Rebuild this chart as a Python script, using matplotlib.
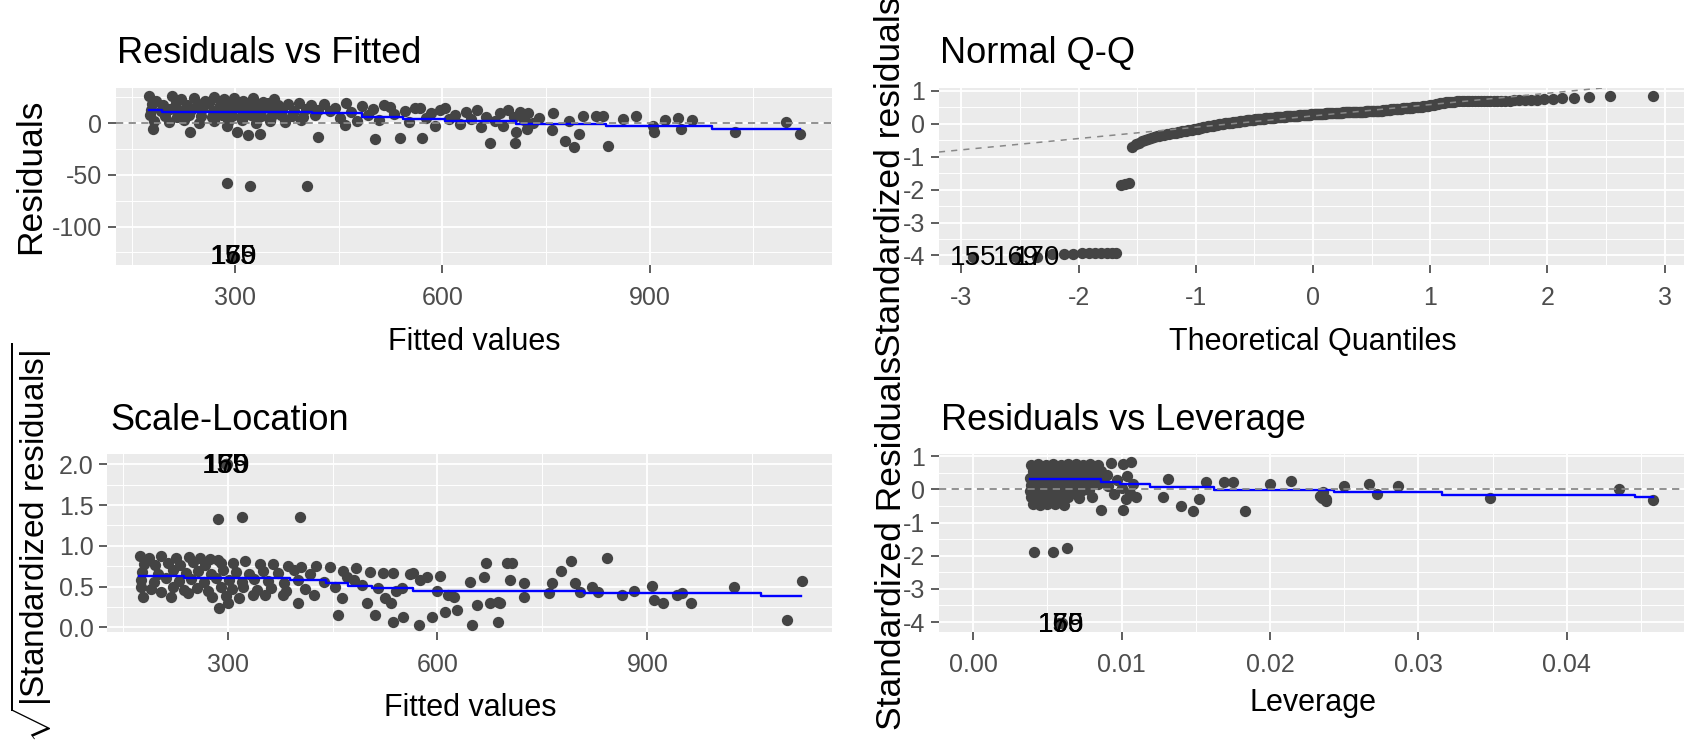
import matplotlib
matplotlib.use("Agg")
import matplotlib.pyplot as plt
from matplotlib import font_manager
from statistics import NormalDist

plt.rcParams['font.family'] = ['Liberation Sans', 'DejaVu Sans']
plt.rcParams['axes.unicode_minus'] = False
plt.rcParams['mathtext.fontset'] = 'custom'
plt.rcParams['mathtext.rm'] = 'Liberation Sans'
plt.rcParams['mathtext.it'] = 'Liberation Sans:italic'
plt.rcParams['mathtext.bf'] = 'Liberation Sans:bold'


def has_font(name):
    try:
        font_manager.findfont(font_manager.FontProperties(family=name), fallback_to_default=False)
        return True
    except Exception:
        return False


if has_font('Liberation Sans Narrow'):
    HFAM = ['Liberation Sans Narrow', 'DejaVu Sans']
    TICK_SIZE, TITLE_SIZE, XLAB_SIZE, LAB_SIZE = 21.5, 31, 26.5, 24
else:
    HFAM = ['Liberation Sans', 'DejaVu Sans']
    TICK_SIZE, TITLE_SIZE, XLAB_SIZE, LAB_SIZE = 18, 26, 22, 20
YLAB_SIZE = 25.5

# ---------------- data: Residuals vs Fitted ----------------
rf_fitted = [
    175, 185, 208, 222, 240, 256, 270, 284, 298, 312, 326, 340, 356,
    180, 195, 214, 230, 246, 262, 278, 292, 306, 320, 334, 348, 362, 376, 392, 410, 428,
    178, 192, 206, 220, 236, 252, 268, 283, 297, 311, 325, 339, 353, 368, 385, 402, 420, 438,
    176, 198, 216, 233, 250, 266, 281, 295, 309, 323, 337, 352, 367, 382, 398, 415,
    182, 204, 226, 248, 270, 290, 310, 330, 350, 372, 395,
    181, 235, 288, 302, 319, 336, 420, 459,
    288, 322, 404,
    445, 452, 460, 468, 476, 484, 492, 500, 502, 508, 516, 524, 530, 538, 546, 552, 560, 567, 570, 576,
    584, 590, 597, 604, 610, 618, 626, 634, 642, 650, 656, 663, 669, 676, 684, 688, 695, 703, 705, 707,
    712, 718, 722, 724, 731, 740,
    758, 760, 777, 783, 791, 798, 804, 823, 832, 840, 861, 880, 905, 907, 922, 941, 946, 962, 1023, 1098,
    1118,
    297, 298, 299]
rf_resid = [
    26, 22, 26, 23, 24, 22, 25, 23, 24, 22, 24, 21, 23,
    19, 18, 20, 18, 19, 20, 18, 19, 20, 18, 19, 20, 18, 19, 20, 18, 19,
    13, 12, 14, 12, 13, 14, 12, 13, 14, 12, 13, 14, 12, 13, 12, 14, 13, 12,
    8, 7, 6, 8, 7, 6, 8, 7, 6, 8, 7, 6, 8, 7, 6, 8,
    2, 1, 3, 0, 2, 1, 3, 0, 2, 1, 3,
    -6, -8, -3, -8, -11, -10, -13, -2,
    -58, -61, -61,
    15, 5, 20, 11, 2, 17, 8, 14, -15, 3, 18, 16, 9, -14, 12, 1, 15, 15, -14, 5,
    10, -3, 13, 15, 4, 8, -1, 11, 4, 13, -4, 6, -19, 2, 10, -3, 13, 6, -19, -8,
    11, 3, -6, 10, 0, 5,
    -7, 10, -17, 2, -23, -10, 7, 7, 7, -22, 4, 7, -3, -8, 3, 5, -6, 3, -8, 1,
    -10,
    -129, -129, -129]
rf_smooth_x = [175, 194, 411, 483, 543, 604, 707, 837, 991, 1117]
rf_smooth_y = [12.9, 11.2, 9.6, 6.4, 3.8, 2.2, -0.3, -2.6, -5.5, -5.5]
rf_label_x = [297, 298, 299]
rf_label_y = [-129, -129, -129]

# ---------------- data: Normal Q-Q ----------------
qq_sample = [
    -4.04, -4.04, -4.04, -3.96, -3.95, -3.95, -3.94, -3.94, -3.93, -3.93, -3.93, -3.92, -3.92,
    -1.86, -1.84, -1.80,
    -0.70,
    -0.62, -0.57, -0.53, -0.49, -0.45,
    -0.42, -0.40, -0.38, -0.36, -0.35, -0.33,
    -0.32, -0.30, -0.29, -0.28, -0.27, -0.25, -0.24, -0.23,
    -0.22, -0.21, -0.20, -0.19, -0.18, -0.17, -0.16, -0.15, -0.13, -0.12,
    -0.11, -0.10, -0.09, -0.08, -0.07, -0.06, -0.05, -0.04, -0.03,
    -0.02, -0.01, 0.00, 0.00, 0.01, 0.02, 0.02, 0.03, 0.03, 0.04, 0.04, 0.05,
    0.05, 0.06, 0.06, 0.07, 0.08, 0.08, 0.09, 0.09, 0.10, 0.11, 0.11, 0.12,
    0.12, 0.12, 0.13, 0.13, 0.14, 0.14, 0.14, 0.15, 0.15, 0.16, 0.16, 0.16, 0.17,
    0.17, 0.17, 0.18, 0.18, 0.18, 0.19, 0.19, 0.19, 0.20, 0.20, 0.20, 0.21, 0.21, 0.21, 0.22,
    0.22, 0.22, 0.23, 0.23, 0.23, 0.23, 0.24, 0.24, 0.24, 0.24, 0.25, 0.25, 0.25, 0.25, 0.26, 0.26,
    0.26, 0.26, 0.27, 0.27, 0.27, 0.28, 0.28, 0.28, 0.28, 0.29, 0.29, 0.29, 0.30, 0.30,
    0.30, 0.30, 0.30, 0.31, 0.31, 0.31, 0.31, 0.31, 0.32, 0.32, 0.32, 0.32, 0.32, 0.33, 0.33, 0.33, 0.33, 0.33,
    0.33, 0.34, 0.34, 0.34, 0.34, 0.34, 0.35, 0.35, 0.35, 0.35, 0.35, 0.35, 0.36, 0.36, 0.36, 0.36, 0.36, 0.36, 0.36, 0.36,
    0.36, 0.37, 0.37, 0.37, 0.37, 0.38, 0.38, 0.38, 0.38, 0.39, 0.39, 0.39, 0.39, 0.40, 0.40, 0.40, 0.40, 0.40, 0.40,
    0.41, 0.41, 0.42, 0.42, 0.43, 0.43, 0.44, 0.44, 0.45, 0.45, 0.45, 0.46, 0.46, 0.46, 0.47, 0.47, 0.47,
    0.48, 0.48, 0.49, 0.49, 0.50, 0.50, 0.51, 0.51, 0.52, 0.52, 0.53,
    0.54, 0.55, 0.55, 0.56, 0.57, 0.58, 0.59, 0.60,
    0.62, 0.63, 0.64, 0.65, 0.66,
    0.67, 0.67, 0.67, 0.68, 0.68, 0.68, 0.68,
    0.68, 0.69, 0.69, 0.69, 0.69, 0.70, 0.70, 0.70, 0.70, 0.70, 0.70,
    0.71, 0.71, 0.71, 0.72, 0.72, 0.72, 0.73,
    0.74, 0.76,
    0.77, 0.78, 0.79,
    0.83, 0.84, 0.85]
qq_line_intercept = 0.242
qq_line_slope = 0.344
outlier_labels = ["155", "169", "170"]

# ---------------- data: Scale-Location ----------------
sl_fitted = [
    174, 188, 205, 226, 245, 260, 275, 286,
    180, 196, 214, 232, 250, 268, 290, 308, 325, 346, 365, 386, 405, 427, 446,
    178, 200, 222, 240, 258, 276, 294, 312, 330, 350, 372, 395, 418, 465, 484, 503, 522, 537,
    176, 194, 212, 230, 248, 266, 284, 302, 320, 338, 358, 380, 400, 438,
    176, 190, 205, 222, 238, 256, 272, 290, 306, 322, 342, 362, 384, 410, 453,
    179, 219, 243, 277, 298, 316, 336, 353, 379, 400, 424,
    288, 300,
    286, 320, 403,
    458, 463, 470, 480, 492, 499, 510, 515, 525, 534,
    537, 540, 549, 551, 560, 565, 573, 575, 585, 592,
    600, 604, 611, 615, 623, 628, 647, 649, 656, 666,
    670, 675, 687, 687, 690, 699, 704, 706, 723, 723,
    759, 764, 776, 791, 797, 804, 821, 830, 842, 864,
    881, 907, 909, 923, 943, 950, 963, 1024, 1099, 1121,
    297, 298, 299]
sl_sqrt_std = [
    0.875, 0.85, 0.875, 0.85, 0.86, 0.85, 0.84, 0.826,
    0.78, 0.76, 0.79, 0.77, 0.80, 0.76, 0.79, 0.785, 0.817, 0.777, 0.777, 0.752, 0.736, 0.752, 0.736,
    0.68, 0.66, 0.70, 0.67, 0.69, 0.66, 0.70, 0.68, 0.66, 0.69, 0.67, 0.70, 0.66, 0.695, 0.724, 0.682, 0.662, 0.662,
    0.58, 0.56, 0.60, 0.57, 0.59, 0.56, 0.60, 0.58, 0.56, 0.59, 0.57, 0.55, 0.58, 0.56,
    0.50, 0.47, 0.437, 0.49, 0.46, 0.48, 0.45, 0.50, 0.47, 0.49, 0.46, 0.48, 0.45, 0.47, 0.498,
    0.375, 0.375, 0.417, 0.375, 0.38, 0.36, 0.40, 0.396, 0.396, 0.294, 0.396,
    0.233, 0.30,
    1.325, 1.35, 1.35,
    0.151, 0.356, 0.62, 0.58, 0.52, 0.294, 0.151, 0.48, 0.36, 0.294,
    0.069, 0.45, 0.478, 0.13, 0.66, 0.662, 0.028, 0.58, 0.62, 0.13,
    0.45, 0.63, 0.19, 0.40, 0.375, 0.212, 0.56, 0.028, 0.274, 0.62,
    0.793, 0.294, 0.069, 0.314, 0.294, 0.785, 0.58, 0.785, 0.54, 0.375,
    0.417, 0.54, 0.695, 0.817, 0.54, 0.437, 0.49, 0.437, 0.846, 0.396,
    0.45, 0.51, 0.335, 0.294, 0.396, 0.425, 0.302, 0.49, 0.09, 0.572,
    2.01, 2.01, 2.01]
sl_smooth_x = [173, 238, 389, 441, 472, 506, 565, 809, 1062, 1119]
sl_smooth_y = [0.633, 0.609, 0.58, 0.547, 0.51, 0.486, 0.45, 0.417, 0.388, 0.388]
sl_label_x = [297, 298, 299]
sl_label_y = [1.98, 1.98, 1.98]

# ---------------- data: Residuals vs Leverage ----------------
lv_leverage = [
    0.0039, 0.0044, 0.0049, 0.0054, 0.0059, 0.0064, 0.0069, 0.0074, 0.0079, 0.0084,
    0.0040, 0.0045, 0.0050, 0.0055, 0.0060, 0.0065, 0.0070, 0.0075, 0.0080, 0.0086,
    0.0038, 0.0043, 0.0048, 0.0053, 0.0058, 0.0063, 0.0068, 0.0073, 0.0078, 0.0083, 0.0088,
    0.0039, 0.0044, 0.0049, 0.0054, 0.0059, 0.0064, 0.0069, 0.0074, 0.0079, 0.0084,
    0.0038, 0.0043, 0.0048, 0.0053, 0.0058, 0.0063, 0.0068, 0.0073, 0.0078,
    0.0039, 0.0044, 0.0049, 0.0054, 0.0059, 0.0064, 0.0071, 0.0080,
    0.0040, 0.0045, 0.0050, 0.0055, 0.0061,
    0.0093, 0.0101, 0.01066, 0.0090, 0.0097, 0.0104, 0.0108, 0.0100, 0.0106, 0.0110, 0.0095, 0.0091, 0.0103,
    0.0041, 0.0054, 0.0063, 0.0086, 0.0101, 0.0131, 0.0128, 0.0140, 0.0148, 0.0152,
    0.0157, 0.0169, 0.0175, 0.0183, 0.0200, 0.0214, 0.0234, 0.0238, 0.0236, 0.0235,
    0.0238, 0.0250, 0.0267, 0.0272, 0.0286, 0.0348, 0.0435, 0.0458,
    0.0058, 0.0059, 0.0060]
lv_std_resid = [
    0.74, 0.77, 0.75, 0.78, 0.74, 0.76, 0.78, 0.75, 0.77, 0.74,
    0.56, 0.53, 0.57, 0.54, 0.55, 0.58, 0.53, 0.56, 0.54, 0.57,
    0.36, 0.33, 0.37, 0.34, 0.35, 0.38, 0.33, 0.36, 0.34, 0.37, 0.35,
    0.14, 0.17, 0.15, 0.13, 0.16, 0.14, 0.17, 0.15, 0.13, 0.16,
    -0.04, -0.07, -0.05, -0.03, -0.06, -0.04, -0.07, -0.05, -0.03,
    -0.24, -0.27, -0.25, -0.23, -0.26, -0.24, -0.27, -0.22,
    -0.44, -0.47, -0.45, -0.43, -0.46,
    0.81, 0.76, 0.83, 0.45, 0.30, 0.40, 0.18, 0.05, -0.12, -0.22, -0.15, 0.10, -0.30,
    -1.88, -1.88, -1.78, -0.61, -0.61, 0.33, -0.22, -0.51, -0.66, -0.30,
    0.22, 0.22, 0.22, -0.66, 0.18, 0.25, -0.20, -0.28, -0.08, -0.25,
    -0.36, 0.10, 0.18, -0.15, 0.10, -0.25, 0.0, -0.33,
    -4.04, -4.04, -4.04]
lv_smooth_x = [0.0038, 0.0086, 0.0099, 0.0119, 0.0162, 0.0243, 0.0316, 0.0446, 0.0458]
lv_smooth_y = [0.305, 0.235, 0.17, 0.08, -0.01, -0.07, -0.152, -0.235, -0.235]
lv_label_x = [0.0059, 0.0059, 0.0059]
lv_label_y = [-4.1, -4.1, -4.1]

# ---------------- figure ----------------
W, H = 1684, 743
fig = plt.figure(figsize=(W / 100, H / 100), dpi=100)

POINT = '#444444'
GREY_DASH = '#888888'


def add_ax(l, t, r, b):
    return fig.add_axes([l / W, 1 - b / H, (r - l) / W, (b - t) / H])


def ftext(x, y, s, **kw):
    return fig.text(x / W, 1 - y / H, s, **kw)


def style(ax, xlim, ylim, xmaj, xlabs, xmin, ymaj, ylabs, ymin):
    ax.set_facecolor('#EBEBEB')
    for sp in ax.spines.values():
        sp.set_visible(False)
    ax.set_xlim(xlim)
    ax.set_ylim(ylim)
    ax.set_xticks(xmaj)
    ax.set_xticklabels(xlabs, family=HFAM)
    ax.set_xticks(xmin, minor=True)
    ax.set_yticks(ymaj)
    ax.set_yticklabels(ylabs, family=HFAM)
    ax.set_yticks(ymin, minor=True)
    ax.set_axisbelow(True)
    ax.grid(which='major', color='white', linewidth=1.3)
    ax.grid(which='minor', color='white', linewidth=0.7)
    ax.tick_params(which='major', length=5.8, width=1.1, color='#333333',
                   labelsize=TICK_SIZE, labelcolor='#4D4D4D')
    ax.tick_params(axis='x', which='major', pad=9)
    ax.tick_params(axis='y', which='major', pad=4)
    ax.tick_params(which='minor', length=0)


def points(ax, x, y):
    ax.scatter(x, y, s=66, c=POINT, linewidths=0, zorder=2)


def labels(ax, xs, ys):
    for x, y, s in zip(xs, ys, outlier_labels):
        ax.text(x, y, s, ha='center', va='center', fontsize=LAB_SIZE, color='black',
                family=HFAM, zorder=6)


# Residuals vs Fitted
ax1 = add_ax(116, 88, 832, 265)
style(ax1, (127.5, 1164), (-137.1, 34.1),
      [300, 600, 900], ['300', '600', '900'], [150, 450, 750, 1050],
      [-100, -50, 0], ['-100', '-50', '0'], [-125, -75, -25, 25])
points(ax1, rf_fitted, rf_resid)
ax1.step(rf_smooth_x, rf_smooth_y, where='post', color='#0000FF', lw=1.7, zorder=3)
ax1.axhline(0, color=GREY_DASH, ls=(0, (4, 3)), lw=1.3, zorder=4)
labels(ax1, rf_label_x, rf_label_y)

# Normal Q-Q
n = len(qq_sample)
qq_theory = [NormalDist().inv_cdf((i - 0.5) / n) for i in range(1, n + 1)]
ax2 = add_ax(939, 88, 1687, 265)
style(ax2, (-3.19, 3.19), (-4.29, 1.09),
      [-3, -2, -1, 0, 1, 2, 3], ['-3', '-2', '-1', '0', '1', '2', '3'],
      [-2.5, -1.5, -0.5, 0.5, 1.5, 2.5],
      [-4, -3, -2, -1, 0, 1], ['-4', '-3', '-2', '-1', '0', '1'],
      [-3.5, -2.5, -1.5, -0.5, 0.5])
points(ax2, qq_theory, qq_sample)
ax2.axline((0, qq_line_intercept), slope=qq_line_slope, color=GREY_DASH,
           ls=(0, (4, 4)), lw=1.1, zorder=4)
labels(ax2, qq_theory[:3], [-4.07, -4.07, -4.07])

# Scale-Location
ax3 = add_ax(107, 454, 832, 632)
style(ax3, (127.5, 1164), (-0.057, 2.127),
      [300, 600, 900], ['300', '600', '900'], [150, 450, 750, 1050],
      [0, 0.5, 1.0, 1.5, 2.0], ['0.0', '0.5', '1.0', '1.5', '2.0'],
      [0.25, 0.75, 1.25, 1.75])
points(ax3, sl_fitted, sl_sqrt_std)
ax3.step(sl_smooth_x, sl_smooth_y, where='post', color='#0000FF', lw=1.7, zorder=3)
labels(ax3, sl_label_x, sl_label_y)

# Residuals vs Leverage
ax4 = add_ax(939, 454, 1687, 632)
style(ax4, (-0.0023, 0.0481), (-4.3, 1.07),
      [0, 0.01, 0.02, 0.03, 0.04], ['0.00', '0.01', '0.02', '0.03', '0.04'],
      [0.005, 0.015, 0.025, 0.035, 0.045],
      [-4, -3, -2, -1, 0, 1], ['-4', '-3', '-2', '-1', '0', '1'],
      [-3.5, -2.5, -1.5, -0.5, 0.5])
points(ax4, lv_leverage, lv_std_resid)
ax4.step(lv_smooth_x, lv_smooth_y, where='post', color='#0000FF', lw=1.7, zorder=3)
ax4.axhline(0, color=GREY_DASH, ls=(0, (4, 3)), lw=1.3, zorder=4)
labels(ax4, lv_label_x, lv_label_y)

# titles
tk = dict(fontsize=TITLE_SIZE, ha='left', va='baseline', family=HFAM)
ftext(117, 63, 'Residuals vs Fitted', **tk)
ftext(940, 63, 'Normal Q-Q', **tk)
ftext(110, 430, 'Scale-Location', **tk)
ftext(941, 430, 'Residuals vs Leverage', **tk)

# x axis titles
xk = dict(fontsize=XLAB_SIZE, ha='center', va='baseline', family=HFAM)
ftext(474, 350, 'Fitted values', **xk)
ftext(1313, 350, 'Theoretical Quantiles', **xk)
ftext(470, 716, 'Fitted values', **xk)
ftext(1313, 711, 'Leverage', **xk)

# y axis titles
yk = dict(fontsize=YLAB_SIZE, rotation=90, rotation_mode='anchor', ha='center', va='baseline')
ftext(40, 176.5, 'Residuals', **yk)
ftext(900, 176.5, 'Standardized residuals', **yk)
ftext(45, 543, r'$\sqrt{|\mathrm{Standardized\ residuals}|}$', fontsize=24, rotation=90,
      rotation_mode='anchor', ha='center', va='baseline')
ftext(901, 543, 'Standardized Residuals', **yk)

fig.savefig('out.png', dpi=100)
